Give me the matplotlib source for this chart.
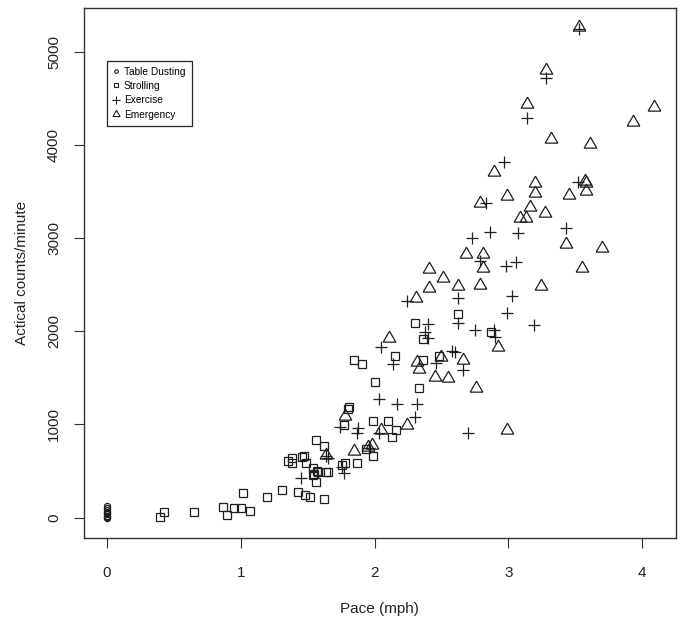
import matplotlib
matplotlib.use("Agg")
import matplotlib.pyplot as plt
from matplotlib.lines import Line2D

plt.rcParams['font.family'] = ['Liberation Sans', 'DejaVu Sans']

# ---- data ----
dust_x = [0, 0, 0, 0, 0, 0, 0, 0, 0]
dust_y = [0, 10, 20, 35, 50, 65, 80, 100, 120]

stroll_x = [0.40, 0.43, 0.65, 0.87, 0.90, 0.95, 1.00, 1.07, 1.02, 1.20, 1.31, 1.43, 1.48, 1.52, 1.62,
            1.35, 1.38, 1.38, 1.46, 1.49, 1.54, 1.54, 1.56, 1.56, 1.62, 1.64, 1.65, 1.57, 1.47, 1.55,
            1.58, 1.76, 1.78, 1.87, 1.94, 1.99, 1.99, 2.10, 2.16, 2.13, 1.77, 1.80, 1.81, 1.85, 1.91,
            2.00, 2.15, 2.30, 2.36, 2.36, 2.33, 2.62, 2.87, 2.48]
stroll_y = [4, 58, 58, 115, 32, 107, 107, 68, 262, 219, 294, 276, 240, 222, 197,
            612, 644, 583, 655, 590, 530, 461, 386, 834, 769, 487, 490, 501, 662, 466,
            494, 565, 590, 587, 740, 662, 1038, 1038, 944, 869, 991, 1163, 1191, 1689, 1646,
            1459, 1732, 2092, 1921, 1692, 1388, 2182, 1989, 1738]

exer_x = [1.45, 1.76, 1.77, 1.64, 1.65, 1.74, 1.88, 1.87, 2.03, 2.03, 2.17, 2.32, 2.30, 2.70, 2.05,
          2.14, 2.24, 2.40, 2.38, 2.40, 2.46, 2.58, 2.60, 2.66, 2.62, 2.62, 2.75, 2.89, 2.90, 2.99,
          3.19, 2.73, 2.86, 2.79, 2.83, 2.97, 2.98, 3.06, 3.03, 3.07, 3.14, 3.28, 3.43, 3.52, 3.53,
          1.96]
exer_y = [425, 541, 476, 662, 640, 976, 959, 912, 906, 1274, 1220, 1217, 1084, 912, 1835,
          1649, 2328, 2082, 1996, 1931, 1657, 1792, 1781, 1585, 2086, 2360, 2014, 2014, 1942, 2193,
          2068, 3004, 3065, 2754, 3380, 3820, 2704, 2747, 2382, 3051, 4285, 4715, 3112, 3605, 5240,
          745]

emer_x = [1.64, 1.78, 1.85, 1.95, 1.98, 2.05, 2.24, 2.11, 2.32, 2.33, 2.31, 2.41, 2.41, 2.51, 2.50,
          2.45, 2.55, 2.62, 2.66, 2.68, 2.76, 2.79, 2.81, 2.81, 2.79, 2.89, 2.92, 2.99, 2.99, 3.09,
          3.13, 3.16, 3.20, 3.20, 3.27, 3.24, 3.14, 3.28, 3.32, 3.45, 3.43, 3.55, 3.57, 3.58, 3.58,
          3.61, 3.70, 3.93, 4.09, 3.53]
emer_y = [673, 1094, 716, 760, 780, 941, 995, 1931, 1674, 1595, 2354, 2665, 2468, 2569, 1727,
          1513, 1502, 2486, 1692, 2826, 1388, 2497, 2826, 2676, 3372, 3712, 1835, 941, 3455, 3212,
          3212, 3330, 3588, 3481, 3266, 2489, 4436, 4807, 4060, 3462, 2933, 2676, 3613, 3590, 3509,
          4010, 2890, 4242, 4403, 5268]

labels = ["Table Dusting", "Strolling", "Exercise", "Emergency"]
x_ticks = [0, 1, 2, 3, 4]
y_ticks = [0, 1000, 2000, 3000, 4000, 5000]

# ---- figure ----
W, H = 685, 630
fig = plt.figure(figsize=(W / 100, H / 100), dpi=100)
L, R, T, B = 84, 675.5, 8.3, 537.7
ax = fig.add_axes([L / W, 1 - B / H, (R - L) / W, (B - T) / H])

col = '#1e1e1e'
lw = 0.9
tri = (3, 0, 0)
ax.plot(dust_x, dust_y, linestyle='none', marker='o', ms=4.4, mfc='none', mec=col, mew=lw)
ax.plot(stroll_x, stroll_y, linestyle='none', marker='s', ms=5.9, mfc='none', mec=col, mew=lw)
ax.plot(exer_x, exer_y, linestyle='none', marker='+', ms=8.5, mec=col, mew=lw)
ax.plot(emer_x, emer_y, linestyle='none', marker=tri, ms=10.5, mfc='none', mec=col, mew=lw)

ax.set_xlim(-0.17, 4.248)
ax.set_ylim(-215, 5465)
ax.set_xticks(x_ticks)
ax.set_xticklabels([str(v) for v in x_ticks])
ax.set_yticks(y_ticks)
ax.set_yticklabels([str(v) for v in y_ticks], rotation=90, va='center')
ax.tick_params(axis='both', direction='out', length=7.5, width=0.8, color='#333333',
               labelsize=11, labelcolor='#222222')
ax.tick_params(axis='x', pad=13)
ax.tick_params(axis='y', pad=9)
for s in ax.spines.values():
    s.set_color('#333333')
    s.set_linewidth(1.0)

ax.set_xlabel("Pace (mph)", fontsize=11, color='#222222', labelpad=16)
ax.set_ylabel("Actical counts/minute", fontsize=11, color='#222222', labelpad=13)

handles = [
    Line2D([], [], linestyle='none', marker='o', ms=2.6, mfc='none', mec=col, mew=0.8),
    Line2D([], [], linestyle='none', marker='s', ms=3.5, mfc='none', mec=col, mew=0.8),
    Line2D([], [], linestyle='none', marker='+', ms=6, mec=col, mew=0.8),
    Line2D([], [], linestyle='none', marker=tri, ms=6, mfc='none', mec=col, mew=0.8),
]
leg = ax.legend(handles, labels, loc='upper left',
                bbox_to_anchor=(106.8 / W, 1 - 60.7 / H), bbox_transform=fig.transFigure,
                fontsize=7.3, handlelength=0.6, handletextpad=0.5, borderpad=0.6,
                labelspacing=0.42, frameon=True, fancybox=False, borderaxespad=0,
                framealpha=1)
leg.get_frame().set_edgecolor('#222222')
leg.get_frame().set_linewidth(0.9)

fig.savefig("out.png", dpi=100)
